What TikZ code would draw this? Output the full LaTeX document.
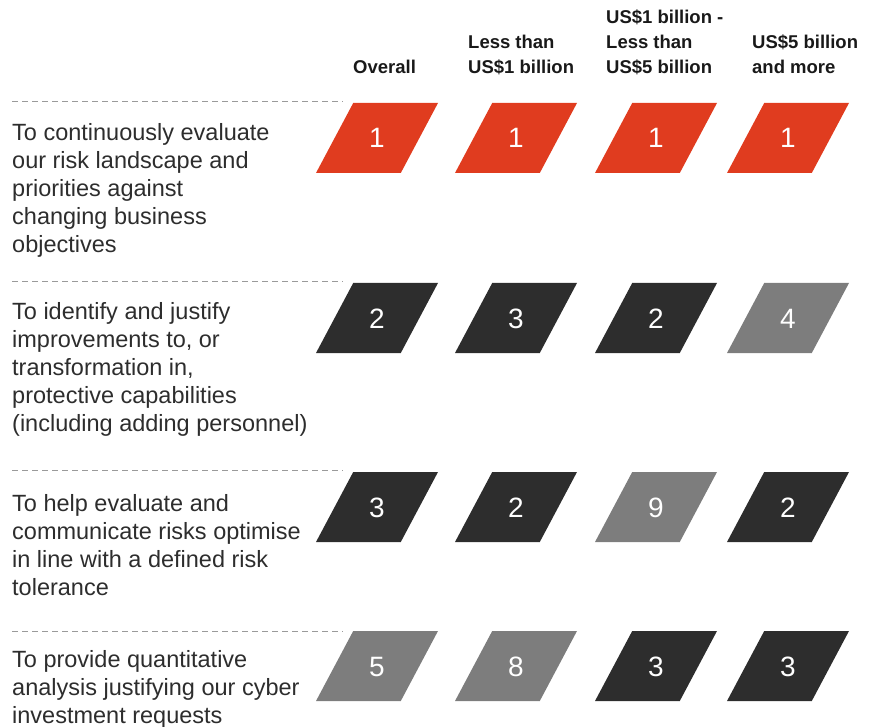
\documentclass[tikz,border=0pt]{standalone}
\usepackage{fontspec}
\setmainfont{Liberation Sans}
\usepackage{xcolor}
\usepackage{tikz}
\usetikzlibrary{shapes.geometric}
\definecolor{pwcred}{HTML}{E03C1F}
\definecolor{pwcdark}{HTML}{2D2D2D}
\definecolor{pwcgrey}{HTML}{7D7D7D}
\definecolor{rulegrey}{HTML}{9A9A9A}
\tikzset{
	rank/.style={trapezium,trapezium left angle=62,trapezium right angle=118,trapezium stretches body,
		minimum width=122pt,text height=45pt,text depth=25pt,inner sep=0pt,text=white,
		font=\fontsize{28}{32}\selectfont},
	top/.style={rank,fill=pwcred},
	mid/.style={rank,fill=pwcdark},
	low/.style={rank,fill=pwcgrey},
	head/.style={anchor=north west,align=left,inner sep=0pt,text=black!90,
		font=\bfseries\fontsize{18.5}{25}\selectfont},
	aim/.style={anchor=north west,align=left,inner sep=0pt,text=pwcdark,
		font=\fontsize{23.5}{28}\selectfont},
	sep/.style={draw=rulegrey,line width=1pt,dash pattern=on 6pt off 4pt}
}

\begin{document}
\begin{tikzpicture}[x=1pt,y=-1pt]
	\useasboundingbox (0,0) rectangle (878,727);
	% column heads
	\node[head] (overall) at (353,60) {Overall};
	\node[head] (small) at (468,35) {Less than\\US\$1 billion};
	\node[head] (medium) at (606,9.5) {US\$1 billion -\\Less than\\US\$5 billion};
	\node[head] (large) at (752,35) {US\$5 billion\\and more};
	% separators
	\draw[sep] (12,102) -- (343,102);
	\draw[sep] (12,282) -- (343,282);
	\draw[sep] (12,470) -- (343,470);
	\draw[sep] (12,631) -- (343,631);
	% row labels
	\node[aim] (evaluate) at (12,123) {To continuously evaluate\\our risk landscape and\\priorities against\\changing business\\objectives};
	\node[aim] (justify) at (12,302) {To identify and justify\\improvements to, or\\transformation in,\\protective capabilities\\(including adding personnel)};
	\node[aim] (tolerance) at (12,494) {To help evaluate and\\communicate risks optimise\\in line with a defined risk\\tolerance};
	\node[aim] (quantify) at (12,650.5) {To provide quantitative\\analysis justifying our cyber\\investment requests};
	% ranks, row 1
	\node[top] (r1c1) at (377,138) {1};
	\node[top] (r1c2) at (516,138) {1};
	\node[top] (r1c3) at (656,138) {1};
	\node[top] (r1c4) at (788,138) {1};
	% row 2
	\node[mid] (r2c1) at (377,318) {2};
	\node[mid] (r2c2) at (516,318) {3};
	\node[mid] (r2c3) at (656,318) {2};
	\node[low] (r2c4) at (788,318) {4};
	% row 3
	\node[mid] (r3c1) at (377,507) {3};
	\node[mid] (r3c2) at (516,507) {2};
	\node[low] (r3c3) at (656,507) {9};
	\node[mid] (r3c4) at (788,507) {2};
	% row 4
	\node[low] (r4c1) at (377,666) {5};
	\node[low] (r4c2) at (516,666) {8};
	\node[mid] (r4c3) at (656,666) {3};
	\node[mid] (r4c4) at (788,666) {3};
\end{tikzpicture}
\end{document}
